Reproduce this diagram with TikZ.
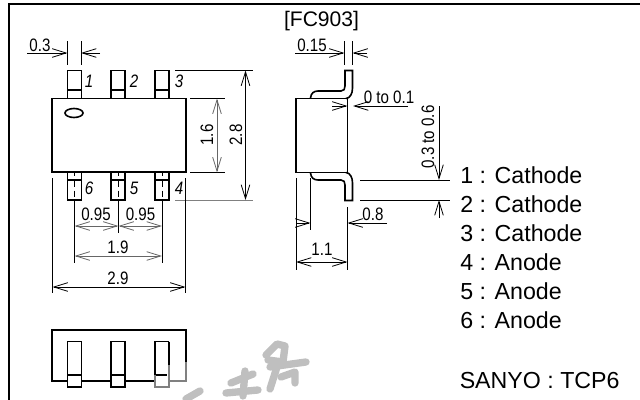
\documentclass[tikz,border=0pt]{standalone}
\usepackage{fontspec}
\setmainfont{Liberation Sans}
\usepackage{graphicx}
\usetikzlibrary{arrows.meta}
\newcommand{\nar}[1]{\scalebox{0.84}[1]{#1}}
\tikzset{
    part/.style={line width=1.2pt, black},
    thin line/.style={line width=0.6pt, black},
    dim/.style={line width=0.6pt, black, -{Straight Barb[length=10.5pt,width=6.5pt]}},
    dimboth/.style={line width=0.6pt, black, {Straight Barb[length=10.5pt,width=6.5pt]}-{Straight Barb[length=10.5pt,width=6.5pt]}},
    dimtext/.style={font=\fontsize{13.5pt}{14pt}\selectfont, inner sep=0pt},
    pintext/.style={font=\fontsize{13.5pt}{14pt}\selectfont\itshape, inner sep=0pt},
    legend/.style={font=\fontsize{17.4pt}{18pt}\selectfont, inner sep=0pt, anchor=west},
    smudge/.style={line width=5.5pt, gray!50, line cap=round, line join=round}
}
\begin{document}
\begin{tikzpicture}[x=0.75pt, y=-0.75pt]
    \useasboundingbox (0,0) rectangle (640,400);
    % stamp at the bottom
    \draw[smudge] (266,355) -- (277,344) -- (285,346) -- (283,362) -- (268,360);
    \draw[smudge] (270,367) -- (306,362);
    \draw[smudge] (277,367) -- (270,389);
    \draw[smudge] (281,377) -- (295,372) -- (295,383);
    \draw[smudge] (245,371) -- (243,396);
    \draw[smudge] (226,393) -- (258,390);
    \draw[smudge] (231,383) -- (253,374);
    \draw[smudge] (186,399) -- (200,391);

    % frame
    \draw[line width=1.6pt] (9,400) -- (9,4) -- (640,4);
    \node (title) at (321.5,21) {\fontsize{15.8pt}{16pt}\selectfont [FC903]};

    % top view
    \draw[part] (52,98.5) rectangle (186,172);
    \draw[part] (74,113) ellipse (9 and 4.5);
    \foreach \px in {67.5,111,155} {
        \draw[part] (\px,98.5) -- (\px,70.5) -- ++(14,0) -- (\px+14,98.5);
        \draw[line width=0.9pt] (\px,90) -- ++(14,0);
        \draw[part] (\px,172) -- (\px,200) -- ++(14,0) -- (\px+14,172);
        \draw[line width=0.9pt] (\px,180) -- ++(14,0);
    }
    \foreach \px in {74.5,118.5,162} {
        \draw[thin line] (\px,172) -- (\px,176);
        \draw[thin line, dashed, dash pattern=on 5pt off 3pt] (\px,180) -- (\px,200);
    }
    \node[pintext] (p1) at (89,81) {\nar{1}};
    \node[pintext] (p2) at (134,81) {\nar{2}};
    \node[pintext] (p3) at (179,81) {\nar{3}};
    \node[pintext] (p6) at (89,188) {\nar{6}};
    \node[pintext] (p5) at (134,188) {\nar{5}};
    \node[pintext] (p4) at (179,188) {\nar{4}};

    % lead width
    \draw[thin line] (67.5,41) -- (67.5,65);
    \draw[thin line] (81,41) -- (81,65);
    \draw[dim] (27,53) -- (67.5,53);
    \draw[dim] (100,53) -- (81,53);
    \node[dimtext] (dleadw) at (40,45) {\nar{0.3}};

    % heights
    \draw[thin line] (175,70.5) -- (253,70.5);
    \draw[thin line, gray] (175,200) -- (253,200);
    \draw[thin line] (190,98.5) -- (225,98.5);
    \draw[thin line] (190,172.5) -- (225,172.5);
    \draw[dimboth] (245.5,70.5) -- (245.5,200);
    \draw[dimboth, gray!80!black] (217,98.5) -- (217,172.5);
    \node[dimtext, rotate=90] (dtotal) at (236,135) {\nar{2.8}};
    \node[dimtext, rotate=90] (dbody) at (207,135) {\nar{1.6}};

    % widths
    \draw[thin line] (52.5,178) -- (52.5,293);
    \draw[thin line] (185.5,178) -- (185.5,293);
    \draw[thin line] (74.5,200) -- (74.5,263);
    \draw[thin line] (118.5,200) -- (118.5,233);
    \draw[thin line] (162,200) -- (162,263);
    \draw[dimboth, gray!80!black] (74.5,226) -- (118.5,226);
    \draw[dimboth, gray!80!black] (118.5,226) -- (162,226);
    \draw[dimboth, gray!80!black] (74.5,256) -- (162,256);
    \draw[dimboth] (52.5,287) -- (185.5,287);
    \node[dimtext] (dpitl) at (96,214) {\nar{0.95}};
    \node[dimtext] (dpitr) at (140.5,214) {\nar{0.95}};
    \node[dimtext] (dpit) at (118,247) {\nar{1.9}};
    \node[dimtext] (dwide) at (118,278) {\nar{2.9}};

    % front view
    \draw[part] (169,381) -- (52,381) -- (52,330) -- (186,330) -- (186,362);
    \draw[part, gray] (186,362) -- (186,381) -- (169,381);
    \foreach \px in {67.5,111} {
        \draw[part, fill=white] (\px,341.5) rectangle ++(14,45.5);
        \draw[part] (\px,375) -- ++(14,0);
    }
    \fill[white] (155,341.5) rectangle (169,387);
    \draw[part] (169,341.5) -- (155,341.5) -- (155,375) -- (167,375);
    \draw[part] (169,341.5) -- (169,365);
    \draw[part, gray] (169,365) -- (169,387) -- (155,387) -- (155,375);

    % side view
    \draw[part] (296,98.5) rectangle (347.5,172.5);
    \draw[part] (310.5,98) .. controls (311,93) and (314,91) .. (318,91) -- (341,91)
        .. controls (344,91) and (345,89) .. (345,86) -- (345,70.5) -- (352.5,70.5) -- (352.5,88)
        .. controls (352.5,94) and (350,98) .. (346,98.5);
    \draw[part] (310.5,173) .. controls (311,178) and (314,180) .. (318,180) -- (341,180)
        .. controls (344,180) and (345,182) .. (345,185) -- (345,200.5) -- (352.5,200.5) -- (352.5,183)
        .. controls (352.5,177) and (350,173) .. (346,172.5);

    % lead thickness
    \draw[thin line] (344.5,41) -- (344.5,65);
    \draw[thin line] (352.5,41) -- (352.5,65);
    \draw[dim] (295,53) -- (344.5,53);
    \draw[dim] (367,53) -- (352.5,53);
    \node[dimtext] (dleadt) at (312,45) {\nar{0.15}};

    % standoff
    \draw[dim] (332,106) -- (347.5,106);
    \draw[dim] (408,106) -- (353,106);
    \node[dimtext] (dstand) at (389,97) {\nar{0 to 0.1}};

    % lead length
    \draw[thin line] (360,180) -- (450,180);
    \draw[thin line] (360,200) -- (450,200);
    \draw[dim] (439,106) -- (439,180);
    \draw[dim] (439,218) -- (439,200);
    \node[dimtext, rotate=90] (dlead) at (428,137) {\nar{0.3 to 0.6}};

    % depth
    \draw[thin line] (296,178) -- (296,270);
    \draw[thin line] (310.5,178) -- (310.5,230);
    \draw[thin line] (347.5,207) -- (347.5,270);
    \draw[dim] (296,223) -- (310.5,223);
    \draw[dim] (387,223) -- (347.5,223);
    \draw[dimboth] (296,262) -- (347.5,262);
    \node[dimtext] (dshelf) at (373,214) {\nar{0.8}};
    \node[dimtext] (ddepth) at (322,249) {\nar{1.1}};

    % pin list
    \node[legend] (l1) at (460,175) {1 : Cathode};
    \node[legend] (l2) at (460,204) {2 : Cathode};
    \node[legend] (l3) at (460,233) {3 : Cathode};
    \node[legend] (l4) at (460,262) {4 : Anode};
    \node[legend] (l5) at (460,291) {5 : Anode};
    \node[legend] (l6) at (460,320) {6 : Anode};
    \node[legend] (pkg) at (459.5,381) {SANYO : TCP6};
\end{tikzpicture}
\end{document}
